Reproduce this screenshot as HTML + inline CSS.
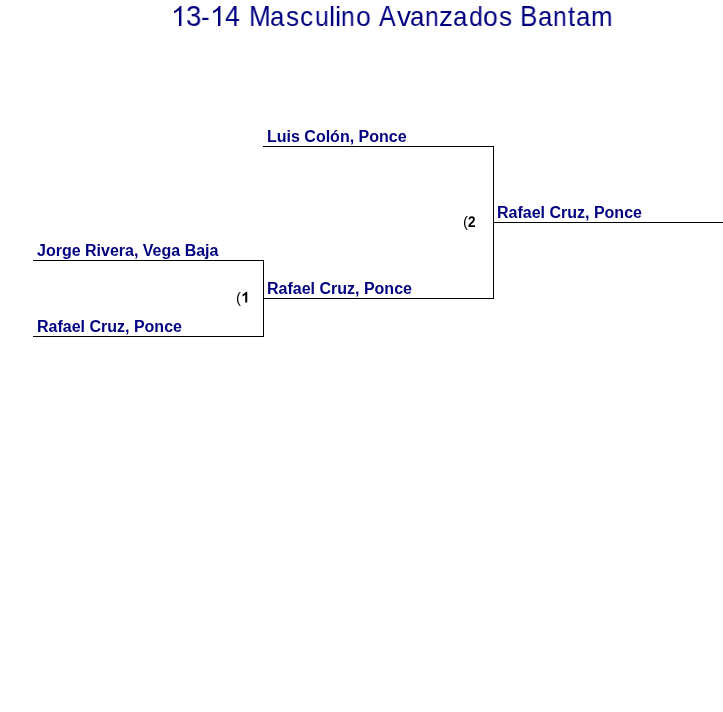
<!DOCTYPE html>
<html><head><meta charset="utf-8">
<style>
html,body{margin:0;padding:0;background:#fff;}
body{width:723px;height:712px;position:relative;overflow:hidden;font-family:"Liberation Sans",sans-serif;}
.t{position:absolute;white-space:nowrap;line-height:1;will-change:transform;}
.title{position:absolute;left:0;top:0;width:723px;height:40px;color:#000080;}
.tc{position:absolute;top:0;line-height:0;height:0;white-space:nowrap;transform-origin:0 0;will-change:transform;}
.tg{position:absolute;fill:#000080;overflow:visible;}
.n{font-size:16px;font-weight:bold;color:#000080;}
.s{font-size:15px;color:#000;}
.s b{font-weight:bold;}
.h{position:absolute;height:1px;background:#000;}
.v{position:absolute;width:1px;background:#000;}
.g{position:relative;color:transparent;}
.g svg{position:absolute;left:0;top:0;width:0.5562em;height:1.1172em;overflow:visible;}
</style></head><body>
<div class="title">
<svg class="tg" style="left:170.65px;top:5.96px;width:15.572px;height:20.043px" viewBox="0 0 1139 1466"><path transform="translate(0 1466) scale(1 -1)" d="M763 0H583V1147Q518 1085 412 1023T223 930V1104Q371 1174 476 1268T655 1466H763Z"/></svg>
<span class="tc" style="left:185.65px;top:15.91px;font-size:29.13px;transform:scaleX(0.949)">3</span>
<span class="tc" style="left:200.64px;top:17.00px;font-size:28.00px;transform:scaleX(0.930)">-</span>
<svg class="tg" style="left:209.95px;top:5.96px;width:15.572px;height:20.043px" viewBox="0 0 1139 1466"><path transform="translate(0 1466) scale(1 -1)" d="M763 0H583V1147Q518 1085 412 1023T223 930V1104Q371 1174 476 1268T655 1466H763Z"/></svg>
<span class="tc" style="left:225.09px;top:15.91px;font-size:29.13px;transform:scaleX(0.913)">4</span>
<span class="tc" style="left:248.77px;top:15.91px;font-size:29.13px;transform:scaleX(0.893)">M</span>
<span class="tc" style="left:270.31px;top:17.00px;font-size:28.00px;transform:scaleX(0.920)">a</span>
<span class="tc" style="left:286.17px;top:17.00px;font-size:28.00px;transform:scaleX(0.935)">s</span>
<span class="tc" style="left:300.09px;top:17.00px;font-size:28.00px;transform:scaleX(0.936)">c</span>
<span class="tc" style="left:314.59px;top:17.00px;font-size:28.00px;transform:scaleX(0.885)">u</span>
<span class="tc" style="left:329.35px;top:17.00px;font-size:28.00px;transform:scaleX(0.930)">l</span>
<span class="tc" style="left:335.36px;top:17.00px;font-size:28.00px;transform:scaleX(0.930)">i</span>
<span class="tc" style="left:341.26px;top:17.00px;font-size:28.00px;transform:scaleX(0.880)">n</span>
<span class="tc" style="left:355.88px;top:17.00px;font-size:28.00px;transform:scaleX(0.950)">o</span>
<span class="tc" style="left:379.15px;top:15.91px;font-size:29.13px;transform:scaleX(0.859)">A</span>
<span class="tc" style="left:396.51px;top:17.00px;font-size:28.00px;transform:scaleX(0.985)">v</span>
<span class="tc" style="left:410.21px;top:17.00px;font-size:28.00px;transform:scaleX(0.920)">a</span>
<span class="tc" style="left:424.96px;top:17.00px;font-size:28.00px;transform:scaleX(0.880)">n</span>
<span class="tc" style="left:439.38px;top:17.00px;font-size:28.00px;transform:scaleX(0.985)">z</span>
<span class="tc" style="left:452.91px;top:17.00px;font-size:28.00px;transform:scaleX(0.920)">a</span>
<span class="tc" style="left:468.75px;top:17.00px;font-size:28.00px;transform:scaleX(0.889)">d</span>
<span class="tc" style="left:483.38px;top:17.00px;font-size:28.00px;transform:scaleX(0.950)">o</span>
<span class="tc" style="left:498.57px;top:17.00px;font-size:28.00px;transform:scaleX(0.935)">s</span>
<span class="tc" style="left:519.86px;top:15.91px;font-size:29.13px;transform:scaleX(0.897)">B</span>
<span class="tc" style="left:538.41px;top:17.00px;font-size:28.00px;transform:scaleX(0.920)">a</span>
<span class="tc" style="left:553.36px;top:17.00px;font-size:28.00px;transform:scaleX(0.880)">n</span>
<span class="tc" style="left:567.71px;top:17.00px;font-size:28.00px;transform:scaleX(0.923)">t</span>
<span class="tc" style="left:575.91px;top:17.00px;font-size:28.00px;transform:scaleX(0.920)">a</span>
<span class="tc" style="left:591.18px;top:17.00px;font-size:28.00px;transform:scaleX(0.923)">m</span>
</div>

<div class="t n" style="left:37px;top:243px">Jorge Rivera, Vega Baja</div>
<div class="h" style="left:33px;top:260px;width:231px"></div>
<div class="t n" style="left:37px;top:319px">Rafael Cruz, Ponce</div>
<div class="h" style="left:33px;top:336px;width:231px"></div>
<div class="v" style="left:263px;top:260px;height:77px"></div>
<div class="t s" style="left:236px;top:290px">(<b class="g">1<svg viewBox="0 -1854 1139 2288"><path fill="#000" transform="scale(1,-1)" d="M856 0H575V1059Q421 915 212 846V1101Q322 1137 451 1234T629 1466H856Z"/></svg></b></div>

<div class="t n" style="left:267px;top:129px">Luis Colón, Ponce</div>
<div class="h" style="left:263px;top:146px;width:231px"></div>
<div class="t n" style="left:267px;top:281px">Rafael Cruz, Ponce</div>
<div class="h" style="left:263px;top:298px;width:231px"></div>
<div class="v" style="left:493px;top:146px;height:153px"></div>
<div class="t s" style="left:463px;top:214px">(</div>
<svg style="position:absolute;left:0;top:0;overflow:visible" width="1" height="1"><path fill="#000" transform="translate(468.4 227) scale(0.00669 -0.00748) translate(-71 0)" d="M71 0V195Q126 316 227.5 431.0Q329 546 483 671Q631 791 690.5 869.0Q750 947 750 1022Q750 1206 565 1206Q475 1206 427.5 1157.5Q380 1109 366 1012L83 1028Q107 1224 229.5 1327.0Q352 1430 563 1430Q791 1430 913.0 1326.0Q1035 1222 1035 1034Q1035 935 996.0 855.0Q957 775 896.0 707.5Q835 640 760.5 581.0Q686 522 616.0 466.0Q546 410 488.5 353.0Q431 296 403 231H1057V0Z"/></svg>

<div class="t n" style="left:497px;top:205px">Rafael Cruz, Ponce</div>
<div class="h" style="left:493px;top:222px;width:230px"></div>
</body></html>
